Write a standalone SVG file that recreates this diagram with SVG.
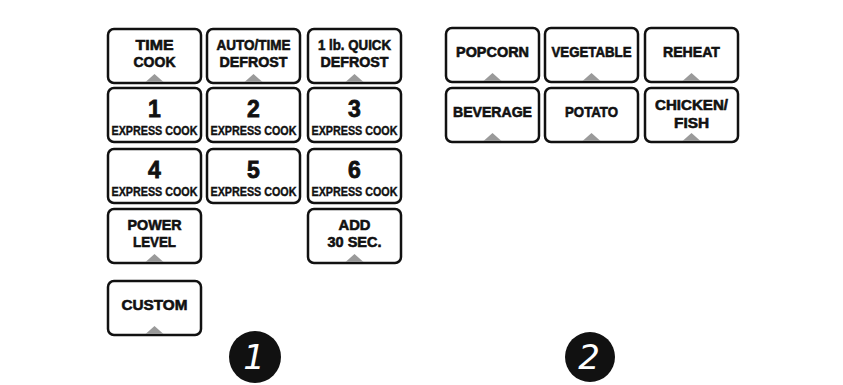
<svg xmlns="http://www.w3.org/2000/svg" width="843" height="385" viewBox="0 0 843 385">
<defs>
<style>
.btn{fill:#fff;stroke:#111;stroke-width:2.5}
.lbl{font-family:"Liberation Sans",Arial,sans-serif;font-weight:bold;font-size:15px;fill:#111;stroke:#111;stroke-width:0.6;text-anchor:middle}
.dig{font-size:23px;stroke-width:0.8}
.exp{font-size:12.5px;stroke-width:0.4}
.tri{fill:#9a9a9a}
.badge{fill:#111}
.bnum{font-family:"DejaVu Sans","Liberation Sans",sans-serif;font-style:italic;font-size:34px;fill:#fff;text-anchor:middle}
</style>
<path id="tri" d="M-9,0 L0,-8 L9,0 Z"/>
</defs>
<rect width="843" height="385" fill="#fff"/>
<g id="time-cook"><rect class="btn" x="108" y="29" width="93" height="54" rx="6"/><text class="lbl" x="154.5" y="50" textLength="38" lengthAdjust="spacingAndGlyphs">TIME</text><text class="lbl" x="154.5" y="67" textLength="42" lengthAdjust="spacingAndGlyphs">COOK</text><use href="#tri" class="tri" x="154.5" y="82"/></g>
<g id="auto-defrost"><rect class="btn" x="207" y="29" width="93" height="54" rx="6"/><text class="lbl" x="253.5" y="50" textLength="74" lengthAdjust="spacingAndGlyphs">AUTO/TIME</text><text class="lbl" x="253.5" y="67" textLength="68" lengthAdjust="spacingAndGlyphs">DEFROST</text><use href="#tri" class="tri" x="253.5" y="82"/></g>
<g id="quick-defrost"><rect class="btn" x="308" y="29" width="93" height="54" rx="6"/><text class="lbl" x="354.5" y="50" textLength="73" lengthAdjust="spacingAndGlyphs">1 lb. QUICK</text><text class="lbl" x="354.5" y="67" textLength="68" lengthAdjust="spacingAndGlyphs">DEFROST</text><use href="#tri" class="tri" x="354.5" y="82"/></g>
<g id="key-1"><rect class="btn" x="108" y="88" width="93" height="54" rx="6"/><text class="lbl dig" x="154.5" y="117">1</text><text class="lbl exp" x="154.5" y="135" textLength="86" lengthAdjust="spacingAndGlyphs">EXPRESS COOK</text></g>
<g id="key-2"><rect class="btn" x="207" y="88" width="93" height="54" rx="6"/><text class="lbl dig" x="253.5" y="117">2</text><text class="lbl exp" x="253.5" y="135" textLength="86" lengthAdjust="spacingAndGlyphs">EXPRESS COOK</text></g>
<g id="key-3"><rect class="btn" x="308" y="88" width="93" height="54" rx="6"/><text class="lbl dig" x="354.5" y="117">3</text><text class="lbl exp" x="354.5" y="135" textLength="86" lengthAdjust="spacingAndGlyphs">EXPRESS COOK</text></g>
<g id="key-4"><rect class="btn" x="108" y="149" width="93" height="54" rx="6"/><text class="lbl dig" x="154.5" y="178">4</text><text class="lbl exp" x="154.5" y="196" textLength="86" lengthAdjust="spacingAndGlyphs">EXPRESS COOK</text></g>
<g id="key-5"><rect class="btn" x="207" y="149" width="93" height="54" rx="6"/><text class="lbl dig" x="253.5" y="178">5</text><text class="lbl exp" x="253.5" y="196" textLength="86" lengthAdjust="spacingAndGlyphs">EXPRESS COOK</text></g>
<g id="key-6"><rect class="btn" x="308" y="149" width="93" height="54" rx="6"/><text class="lbl dig" x="354.5" y="178">6</text><text class="lbl exp" x="354.5" y="196" textLength="86" lengthAdjust="spacingAndGlyphs">EXPRESS COOK</text></g>
<g id="power-level"><rect class="btn" x="108" y="209" width="93" height="54" rx="6"/><text class="lbl" x="154.5" y="230" textLength="54" lengthAdjust="spacingAndGlyphs">POWER</text><text class="lbl" x="154.5" y="247" textLength="43" lengthAdjust="spacingAndGlyphs">LEVEL</text><use href="#tri" class="tri" x="154.5" y="262"/></g>
<g id="add-30"><rect class="btn" x="308" y="209" width="93" height="54" rx="6"/><text class="lbl" x="354.5" y="230" textLength="32" lengthAdjust="spacingAndGlyphs">ADD</text><text class="lbl" x="354.5" y="247" textLength="54" lengthAdjust="spacingAndGlyphs">30 SEC.</text><use href="#tri" class="tri" x="354.5" y="262"/></g>
<g id="custom"><rect class="btn" x="108" y="281" width="93" height="54" rx="6"/><text class="lbl" x="154.5" y="310" textLength="66" lengthAdjust="spacingAndGlyphs">CUSTOM</text><use href="#tri" class="tri" x="154.5" y="334"/></g>
<g id="popcorn"><rect class="btn" x="446" y="28" width="93" height="54" rx="6"/><text class="lbl" x="492.5" y="57" textLength="73" lengthAdjust="spacingAndGlyphs">POPCORN</text><use href="#tri" class="tri" x="492.5" y="81"/></g>
<g id="vegetable"><rect class="btn" x="545" y="28" width="93" height="54" rx="6"/><text class="lbl" x="591.5" y="57" textLength="80" lengthAdjust="spacingAndGlyphs">VEGETABLE</text><use href="#tri" class="tri" x="591.5" y="81"/></g>
<g id="reheat"><rect class="btn" x="645" y="28" width="93" height="54" rx="6"/><text class="lbl" x="691.5" y="57" textLength="57" lengthAdjust="spacingAndGlyphs">REHEAT</text><use href="#tri" class="tri" x="691.5" y="81"/></g>
<g id="beverage"><rect class="btn" x="446" y="88" width="93" height="54" rx="6"/><text class="lbl" x="492.5" y="117" textLength="79" lengthAdjust="spacingAndGlyphs">BEVERAGE</text><use href="#tri" class="tri" x="492.5" y="141"/></g>
<g id="potato"><rect class="btn" x="545" y="88" width="93" height="54" rx="6"/><text class="lbl" x="591.5" y="117" textLength="53" lengthAdjust="spacingAndGlyphs">POTATO</text><use href="#tri" class="tri" x="591.5" y="141"/></g>
<g id="chicken-fish"><rect class="btn" x="645" y="88" width="93" height="54" rx="6"/><text class="lbl" x="691.5" y="110" textLength="73" lengthAdjust="spacingAndGlyphs">CHICKEN/</text><text class="lbl" x="691.5" y="128" textLength="35" lengthAdjust="spacingAndGlyphs">FISH</text><use href="#tri" class="tri" x="691.5" y="141"/></g>
<g id="badge-1"><circle class="badge" cx="255" cy="357" r="26"/><text class="bnum" x="254" y="369">1</text></g>
<g id="badge-2"><circle class="badge" cx="590" cy="357" r="25"/><text class="bnum" x="589" y="369">2</text></g>
<g id="connectors"></g>
</svg>
